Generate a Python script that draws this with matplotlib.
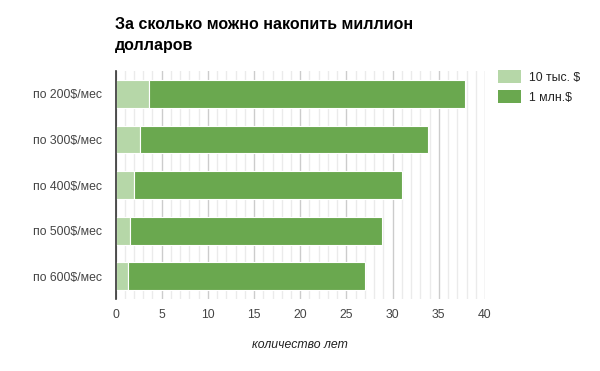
import matplotlib
matplotlib.use("Agg")
import matplotlib.pyplot as plt
from matplotlib.ticker import MultipleLocator
from matplotlib.patches import Patch

plt.rcParams['font.family'] = ['Arial', 'Liberation Sans', 'DejaVu Sans']

categories = ["по 200$/мес", "по 300$/мес", "по 400$/мес", "по 500$/мес", "по 600$/мес"]
years_10k = [3.65, 2.6, 2.05, 1.6, 1.3]
years_1m = [34.15, 31.2, 28.95, 27.2, 25.7]
series_names = ["10 тыс. $", "1 млн.$"]
title = "За сколько можно накопить миллион\nдолларов"
xlabel = "количество лет"

c_light = "#b6d7a8"
c_dark = "#6aa84f"

fig = plt.figure(figsize=(6, 3.71), dpi=100)
ax = fig.add_axes([0.1925, 0.194, 0.6158, 0.6146])

ypos = list(range(len(categories)))
ax.barh(ypos, years_10k, height=0.61, color=c_light, edgecolor="white", linewidth=0.8, zorder=3)
ax.barh(ypos, years_1m, left=years_10k, height=0.61, color=c_dark, edgecolor="white", linewidth=0.8, zorder=3)

ax.set_ylim(len(categories) - 0.5, -0.5)
ax.set_yticks(ypos)
ax.set_yticklabels(categories)
ax.set_xlim(0, 40)
ax.xaxis.set_major_locator(MultipleLocator(5))
ax.xaxis.set_minor_locator(MultipleLocator(1))
ax.grid(which="major", axis="x", color="#cccccc", linewidth=1, zorder=0)
ax.grid(which="minor", axis="x", color="#ebebeb", linewidth=1, zorder=0)
ax.tick_params(axis="both", which="both", length=0, labelsize=8.8, colors="#444444")
ax.tick_params(axis="y", pad=9.5)
ax.tick_params(axis="x", pad=7)
for s in ["top", "right", "bottom"]:
    ax.spines[s].set_visible(False)
ax.spines["left"].set_color("#333333")
ax.spines["left"].set_linewidth(1.2)
ax.spines["left"].set_zorder(4)

ax.set_xlabel(xlabel, fontstyle="italic", fontsize=8.8, color="#222222", labelpad=13)

fig.text(115/600, 1 - 35/371, title, fontsize=11.5, fontweight="bold", ha="left", va="center", linespacing=1.45, color="#000000")

handles = [Patch(facecolor=c_light, label=series_names[0]), Patch(facecolor=c_dark, label=series_names[1])]
fig.legend(handles=handles, loc="upper left", bbox_to_anchor=(0.83, 0.811), frameon=False,
           fontsize=8.8, handlelength=1.9, handleheight=1.2, handletextpad=0.6, labelspacing=0.55,
           borderaxespad=0, borderpad=0, labelcolor="#222222")

fig.savefig("out.png", dpi=100)
